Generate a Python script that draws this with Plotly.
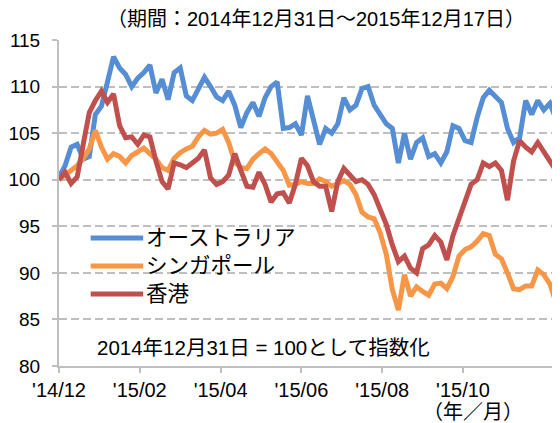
import pandas as pd
import plotly.graph_objects as go

# ---- data (index, 2014-12-31 = 100), sampled every 3 business days ----
dates = pd.bdate_range("2014-12-31", periods=252)[::3]

australia = [
    100.3, 101.5, 103.5, 103.8, 102.2, 102.5, 107.0, 107.9, 110.5, 113.2,
    112.0, 111.3, 110.0, 110.9, 111.5, 112.3, 109.3, 110.8, 108.6, 111.5,
    112.0, 109.0, 108.5, 109.9, 111.0, 110.0, 108.9, 108.5, 109.5, 108.0,
    105.6, 107.2, 108.3, 106.8, 108.8, 110.0, 110.5, 105.5, 105.6, 106.0,
    104.8, 109.0, 106.5, 103.8, 105.5, 105.0, 106.0, 108.8, 107.5, 108.0,
    109.8, 110.0, 108.0, 107.0, 106.0, 105.5, 101.8, 105.0, 102.2, 104.0,
    104.5, 102.5, 102.8, 101.8, 103.0, 105.8, 105.5, 104.2, 104.0, 106.7,
    108.8, 109.6, 109.0, 108.3, 105.5, 104.0, 104.5, 108.5, 107.0, 108.5,
    107.5, 108.2, 106.5, 110.0,
]
singapore = [
    100.0, 100.5, 101.0, 101.5, 102.3, 103.3, 105.3, 103.5, 102.2, 102.8,
    102.5, 101.8, 102.6, 103.0, 103.4, 102.8, 102.2, 101.3, 101.0, 102.3,
    102.9, 103.3, 103.6, 104.6, 105.3, 104.9, 105.0, 105.4, 104.0, 101.9,
    101.3, 101.2, 102.2, 102.8, 103.3, 102.8, 101.8, 101.0, 99.4, 99.5,
    99.8, 99.6, 99.6, 100.1, 99.8, 99.3, 99.6, 99.9, 99.5, 98.4,
    96.5, 96.0, 95.8, 94.3, 92.0, 88.2, 86.0, 89.8, 87.5, 88.5,
    88.0, 87.6, 88.8, 88.9, 88.3, 89.6, 91.8, 92.5, 92.8, 93.4,
    94.2, 94.0, 92.0, 91.5, 90.0, 88.3, 88.2, 88.6, 88.6, 90.3,
    89.8, 88.8, 86.8, 87.5,
]
hongkong = [
    100.0, 100.8, 99.6, 100.3, 103.8, 107.2, 108.5, 109.5, 108.3, 109.2,
    105.8, 104.5, 104.6, 103.8, 104.8, 104.6, 102.0, 99.8, 99.0, 101.8,
    101.6, 101.3, 101.8, 102.3, 103.2, 100.2, 99.5, 99.8, 100.5, 102.8,
    101.0, 99.3, 99.2, 100.8, 99.5, 97.6, 98.5, 98.6, 97.5, 99.5,
    102.3, 101.5, 99.8, 99.3, 99.3, 96.6, 99.8, 101.2, 100.5, 99.8,
    100.0, 99.5, 98.4, 96.9, 95.2, 93.0, 91.2, 91.8, 90.5, 90.0,
    92.6, 93.0, 94.0, 93.3, 91.4, 94.0, 95.8, 97.5, 99.5, 100.0,
    101.8, 101.4, 101.8, 101.0, 97.8, 102.0, 104.2, 103.5, 103.0, 104.0,
    103.0, 101.8, 101.0, 100.5,
]

series_names = ["オーストラリア", "シンガポール", "香港"]
series_colors = ["#558ED5", "#F79646", "#C0504D"]
tick_positions = [0, 40, 80, 120, 160, 200]          # business-day offsets
tick_labels = ["'14/12", "'15/02", "'15/04", "'15/06", "'15/08", "'15/10"]
y_ticks = [80, 85, 90, 95, 100, 105, 110, 115]

title_text = "（期間：2014年12月31日～2015年12月17日）"
note_text = "2014年12月31日 = 100として指数化"
unit_text = "（年／月）"

# ---- figure (page has an 8px body margin) ----
OFF = 8
W, H = 560 - OFF, 423 - OFF
PL, PR, PT, PB = 54, 560, 40, 366          # plot area in page pixels
L, T = PL - OFF, PT - OFF
R = (W + OFF) - PR
B = (H + OFF) - PB
pw, ph = PR - PL, PB - PT

def px(xp):
    return (xp - PL) / pw

def py(yp):
    return (PB - yp) / ph

all_bd = pd.bdate_range("2014-12-31", periods=260)
x_end = all_bd[248]

fig = go.Figure()
for name, vals, col in zip(series_names, [australia, singapore, hongkong], series_colors):
    fig.add_trace(go.Scatter(x=dates, y=vals, mode="lines", name=name,
                             line=dict(color=col, width=5), showlegend=False))

num_font = "Liberation Sans, Arial, Noto Sans CJK JP"
jp_font = "Liberation Sans, Noto Sans CJK JP"
grey = "#BFBFBF"

fig.update_layout(
    width=W, height=H,
    margin=dict(l=L, r=R, t=T, b=B, pad=0),
    paper_bgcolor="white", plot_bgcolor="white",
    font=dict(family=num_font, size=19, color="#000000"),
    xaxis=dict(
        type="date",
        range=[all_bd[0], x_end],
        rangebreaks=[dict(bounds=["sat", "mon"])],
        tickmode="array",
        tickvals=[all_bd[i] for i in tick_positions],
        ticktext=tick_labels,
        showgrid=False, zeroline=False,
        showline=True, linecolor=grey, linewidth=2,
        ticks="outside", ticklen=5, tickcolor=grey, tickwidth=2,
        tickfont=dict(family=num_font, size=20, color="#000000"),
    ),
    yaxis=dict(
        range=[80, 115],
        tickmode="array", tickvals=y_ticks,
        showgrid=True, gridcolor=grey, gridwidth=2, griddash="8px,4px",
        zeroline=False,
        showline=True, linecolor=grey, linewidth=2,
        ticks="outside", ticklen=5, tickcolor=grey, tickwidth=2,
        ticklabelstandoff=8,
        tickfont=dict(family=num_font, size=19, color="#000000"),
    ),
)

annotations = [
    dict(x=px(314), y=py(19), text=title_text, font=dict(family=jp_font, size=20)),
    dict(x=px(472), y=py(412), text=unit_text, font=dict(family=jp_font, size=20)),
    dict(x=px(90), y=py(347), text=note_text, xanchor="left", font=dict(family=jp_font, size=20.5)),
]
shapes = []
legend_rows = [238, 266, 294]
for name, col, yr in zip(series_names, series_colors, legend_rows):
    shapes.append(dict(type="line", xref="paper", yref="paper",
                       x0=px(86), x1=px(139), y0=py(yr), y1=py(yr),
                       line=dict(color=col, width=5)))
    annotations.append(dict(x=px(140), y=py(yr), text=name, xanchor="left",
                            font=dict(family=jp_font, size=21.5)))

for a in annotations:
    a.update(xref="paper", yref="paper", showarrow=False)
    a.setdefault("xanchor", "center")
    a["yanchor"] = "middle"
    a["font"]["color"] = "#000000"

fig.update_layout(annotations=annotations, shapes=shapes)
fig.write_html("out.html")
